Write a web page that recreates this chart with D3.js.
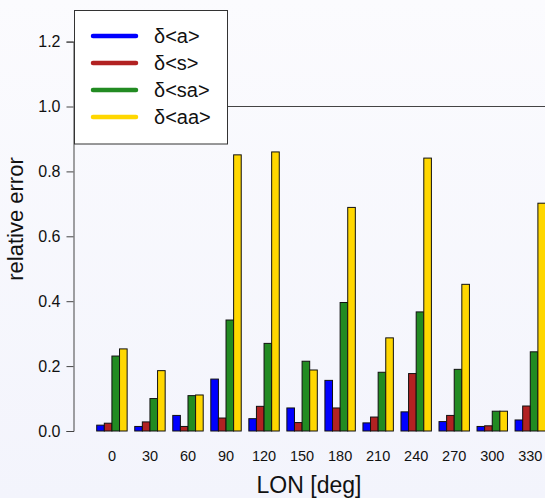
<!DOCTYPE html>
<html>
<head>
<meta charset="utf-8">
<script src="https://cdn.jsdelivr.net/npm/d3@7"></script>
<style>
  body { margin: 0; }
  svg { display: block; font-family: "Liberation Sans", Arial, sans-serif; }
</style>
</head>
<body>
<script>
var lons = ["0", "30", "60", "90", "120", "150", "180", "210", "240", "270", "300", "330"];
var seriesNames = ["δ<a>", "δ<s>", "δ<sa>", "δ<aa>"];
var seriesColors = ["#0000ff", "#b22222", "#228b22", "#ffd700"];

var dA  = [0.018, 0.014, 0.048, 0.160, 0.038, 0.071, 0.156, 0.025, 0.059, 0.029, 0.014, 0.034];
var dS  = [0.024, 0.028, 0.014, 0.040, 0.076, 0.026, 0.071, 0.043, 0.177, 0.048, 0.016, 0.077];
var dSA = [0.231, 0.100, 0.109, 0.342, 0.270, 0.215, 0.396, 0.181, 0.367, 0.190, 0.061, 0.244];
var dAA = [0.253, 0.186, 0.111, 0.851, 0.860, 0.188, 0.689, 0.287, 0.841, 0.452, 0.061, 0.702];
var series = [dA, dS, dSA, dAA];

var yTicks = [0, 0.2, 0.4, 0.6, 0.8, 1.0, 1.2];

var width = 545, height = 498;

var svg = d3.select("body").append("svg")
    .attr("width", width)
    .attr("height", height);

var grad = svg.append("defs").append("linearGradient")
    .attr("id", "bg")
    .attr("x1", 0).attr("y1", 0).attr("x2", 0).attr("y2", 1);
grad.append("stop").attr("offset", "0%").attr("stop-color", "#fbfbfe");
grad.append("stop").attr("offset", "100%").attr("stop-color", "#f3f4fc");

svg.append("rect")
    .attr("width", width)
    .attr("height", height)
    .attr("fill", "url(#bg)");

// barplot-style units: each group = 4 bars + 1 space
var x = d3.scaleLinear().domain([0, 60]).range([89.1, 545.5]);
var y = d3.scaleLinear().domain([0, 1.2]).range([431, 41.6]);

var bars = [];
lons.forEach(function (lon, g) {
    series.forEach(function (s, k) {
        bars.push({ g: g, k: k, v: s[g] });
    });
});

// horizontal reference line at 1.0
svg.append("line")
    .attr("x1", x(0)).attr("x2", width)
    .attr("y1", y(1)).attr("y2", y(1))
    .attr("stroke", "#444")
    .attr("stroke-width", 1);

svg.append("g")
    .selectAll("rect")
    .data(bars)
    .join("rect")
    .attr("x", d => x(1 + 5 * d.g + d.k))
    .attr("width", x(1) - x(0))
    .attr("y", d => y(d.v))
    .attr("height", d => y(0) - y(d.v))
    .attr("fill", d => seriesColors[d.k])
    .attr("stroke", "#111")
    .attr("stroke-width", 1);

// y axis
var yAxis = svg.append("g")
    .attr("transform", "translate(73.5,0)")
    .call(d3.axisLeft(y).tickValues(yTicks).tickFormat(d3.format(".1f")).tickSize(7).tickPadding(6));
yAxis.select(".domain").attr("stroke", "#444");
yAxis.selectAll(".tick line").attr("stroke", "#444");
yAxis.selectAll("text")
    .attr("font-size", 16)
    .attr("fill", "#111")
    .style("font-family", "Liberation Sans, Arial, sans-serif");

// x tick labels (no axis line)
svg.append("g")
    .selectAll("text")
    .data(lons)
    .join("text")
    .attr("x", (d, i) => x(1 + 5 * i + 2))
    .attr("y", 461)
    .attr("text-anchor", "middle")
    .attr("font-size", 14.5)
    .attr("fill", "#111")
    .text(d => d);

svg.append("text")
    .attr("x", 309)
    .attr("y", 493)
    .attr("text-anchor", "middle")
    .attr("font-size", 23)
    .attr("fill", "#111")
    .text("LON [deg]");

svg.append("text")
    .attr("transform", "translate(23,219) rotate(-90)")
    .attr("text-anchor", "middle")
    .attr("font-size", 22)
    .attr("fill", "#111")
    .text("relative error");

// legend
var legend = svg.append("g");
legend.append("rect")
    .attr("x", 74.5).attr("y", 10.5)
    .attr("width", 153).attr("height", 133.5)
    .attr("fill", "#ffffff")
    .attr("stroke", "#333")
    .attr("stroke-width", 1);

var legendRow = d3.scaleLinear().domain([0, 3]).range([36, 117]);

legend.selectAll("line")
    .data(seriesNames)
    .join("line")
    .attr("x1", 93).attr("x2", 136)
    .attr("y1", (d, i) => legendRow(i))
    .attr("y2", (d, i) => legendRow(i))
    .attr("stroke", (d, i) => seriesColors[i])
    .attr("stroke-width", 4.5)
    .attr("stroke-linecap", "round");

legend.selectAll("text")
    .data(seriesNames)
    .join("text")
    .attr("x", 154)
    .attr("y", (d, i) => legendRow(i))
    .attr("dy", "0.36em")
    .attr("font-size", 20)
    .attr("fill", "#111")
    .text(d => d);
</script>
</body>
</html>
